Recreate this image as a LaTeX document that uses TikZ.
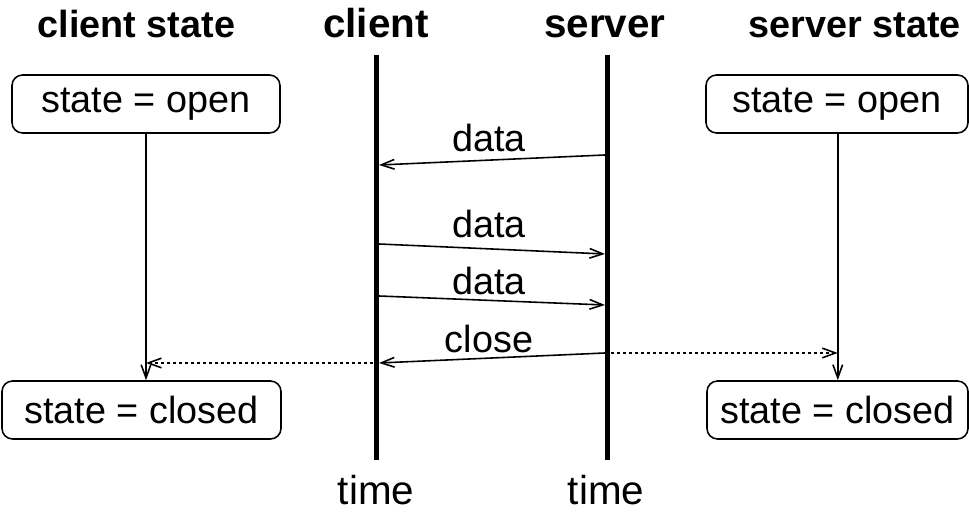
\documentclass[tikz,border=0pt]{standalone}
\usepackage{fontspec}
\setmainfont{Liberation Sans}
\usetikzlibrary{arrows.meta}

\begin{document}
\begin{tikzpicture}[scale=0.2,
	lbl/.style={font=\fontsize{21.5}{26}\selectfont, anchor=base},
	heading/.style={font=\fontsize{21.5}{26}\selectfont\bfseries, anchor=base},
	party/.style={font=\fontsize{23}{28}\selectfont\bfseries, anchor=base},
	statebox/.style={draw, rounded corners=6pt, line width=0.9pt, minimum height=1.16cm, font=\fontsize{21.5}{26}\selectfont},
	timeline/.style={line width=2.8pt},
	msg/.style={line width=0.9pt, -{Straight Barb[length=7.5pt,width=5.5pt]}},
	note/.style={msg, dash pattern=on 1.7pt off 1.7pt}]
	\tikzstyle{every node}+=[inner sep=0pt]
	\useasboundingbox (0,0) rectangle (96.9,-51.2);
	% headings
	\node [heading] (cstatehead) at (13.65,-3.75) {client state};
	\node [party] (clienthead) at (37.6,-3.8) {client};
	\node [party] (serverhead) at (60.5,-3.8) {server};
	\node [heading] (sstatehead) at (85.5,-3.75) {server state};
	% time lines
	\coordinate (ctop) at (37.65,-5.5);
	\coordinate (cbot) at (37.65,-46);
	\coordinate (stop) at (60.75,-5.5);
	\coordinate (sbot) at (60.75,-46);
	\draw [timeline] (ctop) -- (cbot);
	\draw [timeline] (stop) -- (sbot);
	\node [lbl, font=\fontsize{23}{28}\selectfont] (ctime) at (37.6,-50.5) {time};
	\node [lbl, font=\fontsize{23}{28}\selectfont] (stime) at (60.6,-50.5) {time};
	% states
	\node [statebox, minimum width=5.36cm] (copen) at (14.6,-10.4) {state = open};
	\node [statebox, minimum width=5.58cm] (cclosed) at (14.15,-41) {state = closed};
	\node [statebox, minimum width=5.24cm] (sopen) at (83.7,-10.4) {state = open};
	\node [statebox, minimum width=5.22cm] (sclosed) at (83.75,-41) {state = closed};
	\draw [msg] (copen.south) -- (copen.south |- cclosed.north);
	\draw [msg] ([xshift=0.08cm]sopen.south) -- ([xshift=0.08cm]sopen.south |- sclosed.north);
	% messages
	\coordinate (c1) at (37.9,-16.5);
	\coordinate (s1) at (60.5,-15.5);
	\coordinate (c2) at (37.9,-24.4);
	\coordinate (s2) at (60.5,-25.4);
	\coordinate (c3) at (37.9,-29.6);
	\coordinate (s3) at (60.5,-30.5);
	\coordinate (c4) at (37.9,-36.3);
	\coordinate (s4) at (60.5,-35.3);
	\draw [msg] (s1) -- (c1);
	\draw [msg] (c2) -- (s2);
	\draw [msg] (c3) -- (s3);
	\draw [msg] (s4) -- (c4);
	\node [lbl] (m1) at (48.9,-15.2) {data};
	\node [lbl] (m2) at (48.9,-23.8) {data};
	\node [lbl] (m3) at (48.9,-29.5) {data};
	\node [lbl] (m4) at (48.9,-35.3) {close};
	% state changes
	\draw [note] (c4) -- (copen.south |- c4);
	\draw [note] ([xshift=0.5pt]s4) -- ([xshift=0.08cm]sopen.south |- s4);
\end{tikzpicture}
\end{document}
